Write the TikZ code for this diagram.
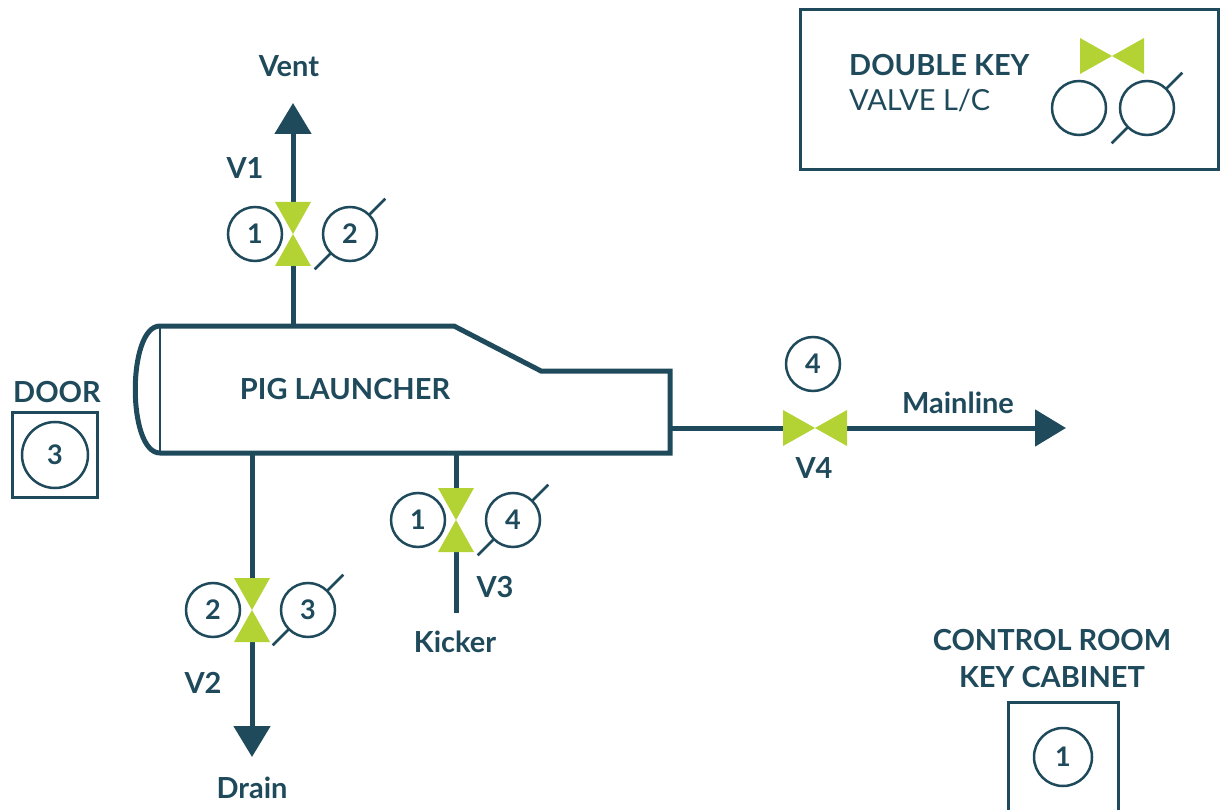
\documentclass[tikz,border=0pt]{standalone}
\usepackage{fontspec}
\setmainfont{Lato}
\usetikzlibrary{calc,arrows.meta}
\definecolor{dk}{HTML}{1F4A5B}
\definecolor{gr}{HTML}{B3D334}
\newcommand\keyslash[1]{%
  \draw[keyline] ($(#1)+(45:27pt)$) -- ($(#1)+(45:50pt)$);
  \draw[keyline] ($(#1)+(225:27pt)$) -- ($(#1)+(225:50pt)$);}
\begin{document}
\begin{tikzpicture}[x=1pt,y=-1pt,
  lbl/.style={font=\fontsize{29}{31}\selectfont\bfseries, text=dk, inner sep=0pt},
  keyc/.style={circle, draw=dk, line width=2.5pt, minimum size=54pt, inner sep=0pt,
    font=\fontsize{27}{29}\selectfont\bfseries, text=dk},
  keyline/.style={draw=dk, line width=2.5pt},
  pipe/.style={draw=dk, line width=5pt},
  tip/.style={-{Triangle[width=36pt,length=31pt]}},
  boxline/.style={draw=dk, line width=3pt},
  vval/.pic={\fill[gr] (-18,-32) -- (18,-32) -- (0,0) -- cycle;
             \fill[gr] (-18,32) -- (18,32) -- (0,0) -- cycle;},
  hval/.pic={\fill[gr] (-32,-18) -- (-32,18) -- (0,0) -- cycle;
             \fill[gr] (32,-18) -- (32,18) -- (0,0) -- cycle;},
]
\useasboundingbox (0,0) rectangle (1226,810);

% ---------- legend ----------
\node[boxline, rectangle, minimum width=418pt, minimum height=160pt, inner sep=0pt] (legend) at (1009,90) {};
\node[lbl, anchor=base west] (lgt1) at (849,76) {DOUBLE KEY};
\node[lbl, font=\fontsize{29}{31}\selectfont, anchor=base west] (lgt2) at (849,111) {VALVE L/C};
\pic at (1112,56) {hval};
\node[keyc] (lgc1) at (1079,108) {};
\node[keyc] (lgc2) at (1147,108) {};
\keyslash{lgc2}

% ---------- launcher ----------
\coordinate (lt) at (160,326);
\coordinate (lb) at (160,453);
\draw[dk, line width=5pt, line join=miter]
  (lt) -- (454,326) -- (541,371) -- (670,371) -- (670,453) -- (lb)
  .. controls (127,453) and (127,326) .. (lt) -- cycle;
\draw[keyline] (lt) -- (lb);
\node[lbl] (launcher) at (345,389) {PIG LAUNCHER};

% ---------- V1 / vent ----------
\coordinate (v1base) at (293,326);
\coordinate (v1) at (293,234);
\coordinate (v1lo) at (293,266);
\coordinate (v1hi) at (293,202);
\coordinate (venttip) at (293,103);
\draw[pipe] (v1base) -- (v1lo);
\draw[pipe, tip] (v1hi) -- (venttip);
\pic at (v1) {vval};
\node[keyc] (v1a) at (255,234) {1};
\node[keyc] (v1b) at (350,234) {2};
\keyslash{v1b}
\node[lbl] (v1l) at (245,168) {V1};
\node[lbl] (vent) at (289,66) {Vent};

% ---------- V2 / drain ----------
\coordinate (v2base) at (252,453);
\coordinate (v2) at (252,610);
\coordinate (v2hi) at (252,578);
\coordinate (v2lo) at (252,642);
\coordinate (draintip) at (252,757);
\draw[pipe] (v2base) -- (v2hi);
\draw[pipe, tip] (v2lo) -- (draintip);
\pic at (v2) {vval};
\node[keyc] (v2a) at (213,610) {2};
\node[keyc] (v2b) at (308,610) {3};
\keyslash{v2b}
\node[lbl] (v2l) at (203,683) {V2};
\node[lbl] (drain) at (252,788) {Drain};

% ---------- V3 / kicker ----------
\coordinate (v3base) at (456,453);
\coordinate (v3) at (456,520);
\coordinate (v3hi) at (456,488);
\coordinate (v3lo) at (456,552);
\coordinate (kickend) at (456,613);
\draw[pipe] (v3base) -- (v3hi);
\draw[pipe] (v3lo) -- (kickend);
\pic at (v3) {vval};
\node[keyc] (v3a) at (418,520) {1};
\node[keyc] (v3b) at (513,520) {4};
\keyslash{v3b}
\node[lbl] (v3l) at (495,587) {V3};
\node[lbl] (kicker) at (455,642) {Kicker};

% ---------- V4 / mainline ----------
\coordinate (v4base) at (670,428);
\coordinate (v4) at (815,428);
\coordinate (v4l) at (783,428);
\coordinate (v4r) at (847,428);
\coordinate (maintip) at (1066,428);
\draw[pipe] (v4base) -- (v4l);
\draw[pipe, tip] (v4r) -- (maintip);
\pic at (v4) {hval};
\node[keyc] (v4a) at (813,364) {4};
\node[lbl] (v4lab) at (814,468) {V4};
\node[lbl] (mainline) at (958,403) {Mainline};

% ---------- door ----------
\node[lbl] (doorl) at (57,392) {DOOR};
\node[boxline, rectangle, minimum width=85pt, minimum height=85pt, inner sep=0pt] (doorbox) at (54.5,454.5) {};
\node[keyc, minimum size=66pt] (doorc) at (55,455) {3};

% ---------- key cabinet ----------
\node[lbl] (cab1) at (1052,640) {CONTROL ROOM};
\node[lbl] (cab2) at (1052,677) {KEY CABINET};
\draw[boxline] (1008,820) |- (1118,702) coordinate (cabtr) -- (1118,820);
\node[keyc, minimum size=58pt] (cabc) at (1063,757) {1};
\end{tikzpicture}
\end{document}
